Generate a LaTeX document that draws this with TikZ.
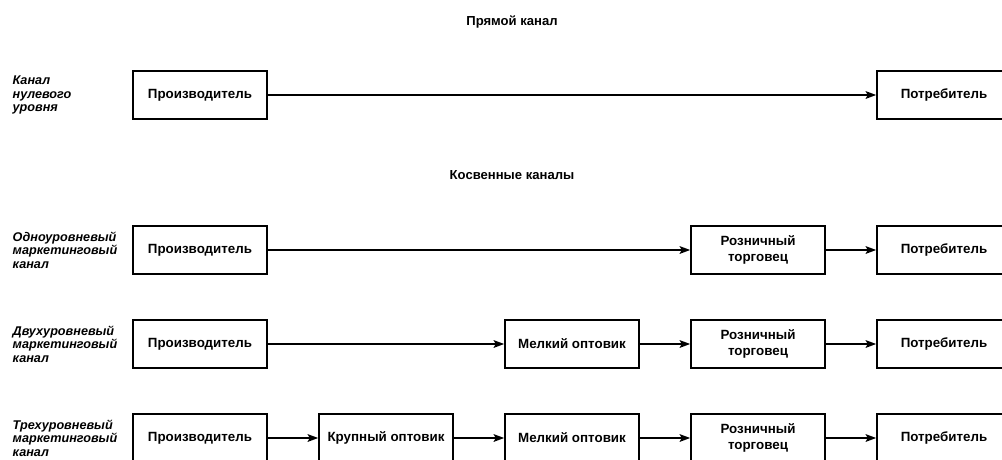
\documentclass[tikz,border=0pt]{standalone}
\usepackage{fontspec}
\setmainfont{Liberation Sans}
\usetikzlibrary{arrows.meta,positioning}

\begin{document}
\begin{tikzpicture}[>={Stealth[length=7.5pt,width=5.5pt,inset=1.5pt]},line width=1pt,node distance=4.65cm,on grid,
  box/.style={draw,line width=1.2pt,minimum width=3.35cm,minimum height=1.2cm,align=center,
    font=\bfseries\fontsize{9.5}{11.5}\selectfont},
  chan/.style={anchor=west,inner sep=0pt,align=left,font=\bfseries\itshape\fontsize{9}{9.6}\selectfont},
  head/.style={font=\bfseries\fontsize{9.3}{11}\selectfont}]

\useasboundingbox (0,0) rectangle (25.05,-11.475);

\node[head]   (t1) at (12.8,-0.55)   {Прямой канал};
\node[head]   (t2) at (12.8,-4.375)  {Косвенные каналы};

\node[chan]   (l1) at (0.3,-2.375)   {Канал\\нулевого\\уровня};
\node[chan]   (l2) at (0.3,-6.25)    {Одноуровневый\\маркетинговый\\канал};
\node[chan]   (l3) at (0.3,-8.6)     {Двухуровневый\\маркетинговый\\канал};
\node[chan]   (l4) at (0.3,-10.95)   {Трехуровневый\\маркетинговый\\канал};

\node[box]    (p1) at (5,-2.375)     {Производитель};
\node[box]    (c1)[right=18.6cm of p1]  {Потребитель};

\node[box]    (p2) at (5,-6.25)      {Производитель};
\node[box]    (r2)[right=13.95cm of p2] {Розничный\\торговец};
\node[box]    (c2)[right=of r2]      {Потребитель};

\node[box]    (p3) at (5,-8.6)       {Производитель};
\node[box]    (m3)[right=9.3cm of p3]   {Мелкий оптовик};
\node[box]    (r3)[right=of m3]      {Розничный\\торговец};
\node[box]    (c3)[right=of r3]      {Потребитель};

\node[box]    (p4) at (5,-10.95)     {Производитель};
\node[box]    (k4)[right=of p4]      {Крупный оптовик};
\node[box]    (m4)[right=of k4]      {Мелкий оптовик};
\node[box]    (r4)[right=of m4]      {Розничный\\торговец};
\node[box]    (c4)[right=of r4]      {Потребитель};

	\path[->] (p1) edge (c1)
			(p2) edge (r2)
			(r2) edge (c2)
			(p3) edge (m3)
			(m3) edge (r3)
			(r3) edge (c3)
			(p4) edge (k4)
			(k4) edge (m4)
			(m4) edge (r4)
			(r4) edge (c4);
\end{tikzpicture}
\end{document}
